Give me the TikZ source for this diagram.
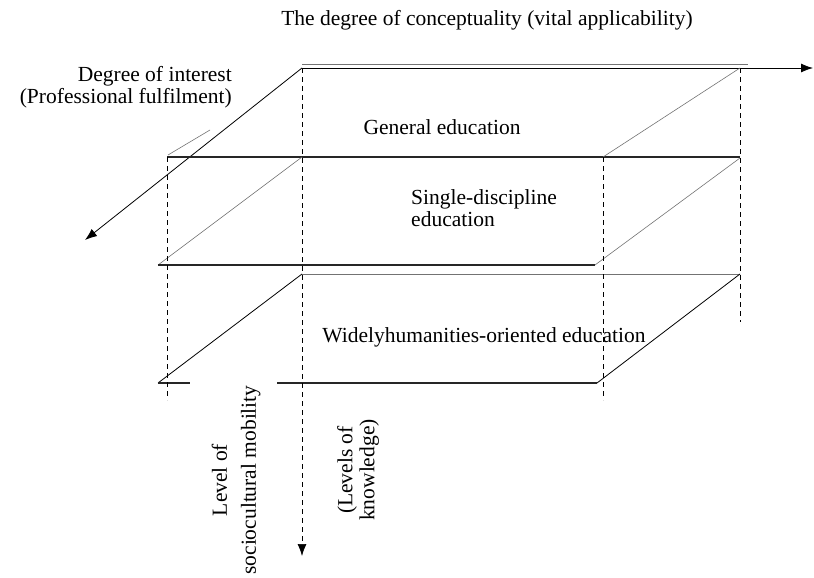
\documentclass[tikz,border=0pt]{standalone}
\usepackage{fontspec}
\setmainfont{Liberation Serif}
\usetikzlibrary{arrows.meta}
\begin{document}
\begin{tikzpicture}[x=1pt,y=-1pt,
  thickedge/.style={line width=1.1pt,black!85},
  thinedge/.style={line width=0.6pt,black!55},
  solidedge/.style={line width=0.8pt,black},
  dashv/.style={line width=0.7pt,black,dash pattern=on 5pt off 4pt},
  tipa/.style={-{Latex[length=12pt,width=9pt]}},
  axis/.style={line width=0.8pt,black,tipa},
  lbl/.style={font=\fontsize{21.5}{22}\selectfont,inner sep=0pt,align=center}]
\useasboundingbox (0,0) rectangle (814,578);
% corners
\coordinate (A1) at (302,64);  \coordinate (A2) at (748,64);
\coordinate (O) at (302,68);   \coordinate (XE) at (813,68);
\coordinate (YE) at (85,240);
\coordinate (B1) at (167,157); \coordinate (B2) at (740,157);
\coordinate (B3) at (603,157); \coordinate (BR) at (740,68);
\coordinate (F1) at (168,155); \coordinate (F2) at (210,130);
\coordinate (C0) at (302,157); \coordinate (C1) at (158,265);
\coordinate (C2) at (595,265); \coordinate (CR) at (740,158);
\coordinate (D1) at (302,274); \coordinate (D2) at (740,274);
\coordinate (E1) at (158,383); \coordinate (E2) at (190,383);
\coordinate (E3) at (277,383); \coordinate (E4) at (597,383);
\coordinate (ZE) at (302,556);
% top plane
\draw[thinedge] (A1) -- (A2);
\draw[axis] (O) -- (XE);
\draw[axis] (O) -- (YE);
\draw[thickedge] (B1) -- (B2);
\draw[thinedge] (BR) -- (B3);
\draw[thinedge] (F1) -- (F2);
% second plane
\draw[thinedge] (C0) -- (C1);
\draw[thinedge] (CR) -- (C2);
\draw[thickedge] (C1) -- (C2);
% third plane
\draw[thinedge] (D1) -- (D2);
\draw[solidedge] (D1) -- (E1);
\draw[solidedge] (D2) -- (E4);
\draw[thickedge] (E1) -- (E2);
\draw[thickedge] (E3) -- (E4);
% dashed verticals
\draw[dashv] (167,157) -- (167,400);
\draw[dashv] (603,157) -- (603,400);
\draw[dashv] (740,68) -- (740,322);
\draw[dashv,tipa] (O) -- (ZE);
% labels
\node[lbl] (title) at (487,20) {The degree of conceptuality (vital applicability)};
\node[lbl,align=right,anchor=east] (interest) at (232,87) {Degree of interest\\(Professional fulfilment)};
\node[lbl] (gen) at (442,127) {General education};
\node[lbl,align=left,anchor=west] (single) at (411,208) {Single-discipline\\education};
\node[lbl] (wide) at (484,337) {Widelyhumanities-oriented education};
\node[lbl,rotate=90,font=\fontsize{21.5}{29}\selectfont] (mob) at (236,480) {Level of\\sociocultural mobility};
\node[lbl,rotate=90] (know) at (358,470) {(Levels of\\knowledge)};
\end{tikzpicture}
\end{document}
